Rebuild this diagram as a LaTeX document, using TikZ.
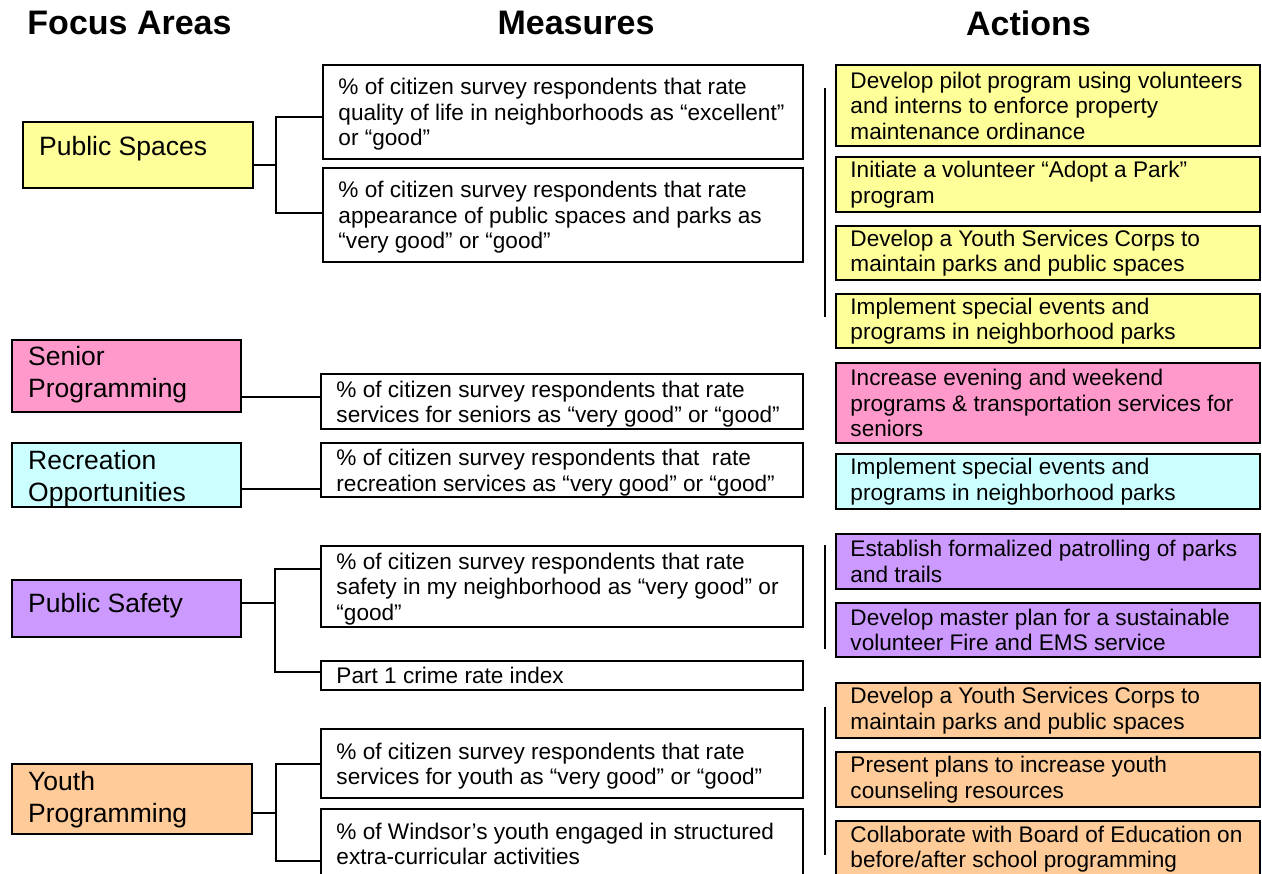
\documentclass[tikz,border=0pt]{standalone}
\usepackage{fontspec}
\setmainfont{Liberation Sans}
\definecolor{cyel}{HTML}{FFFF99}
\definecolor{cpink}{HTML}{FF99CC}
\definecolor{ccyan}{HTML}{CCFFFF}
\definecolor{cpurp}{HTML}{CC99FF}
\definecolor{corng}{HTML}{FFCC99}
\begin{document}
\begin{tikzpicture}[x=1pt,y=-1pt,
  box/.style={draw=black, line width=1.5pt, inner sep=0pt, rectangle},
  btext/.style={anchor=west, align=left, inner sep=0pt, font=\fontsize{22.6}{25.5}\selectfont},
  mtext/.style={btext, yshift=-2.5pt},
  ftext/.style={anchor=west, align=left, inner sep=0pt, font=\fontsize{26.5}{32}\selectfont},
  head/.style={inner sep=0pt, font=\fontsize{34}{40}\selectfont\bfseries},
  conn/.style={line width=1.5pt}]
\useasboundingbox (0,0) rectangle (1262,874);
\clip (0,0) rectangle (1262,874);
\fill[white] (0,0) rectangle (1262,874);

% headers
\node[head] (h1) at (129.5,23) {Focus Areas};
\node[head] (h2) at (576,23) {Measures};
\node[head] (h3) at (1028.5,23) {Actions};

% focus areas
\node[box, fill=cyel, minimum width=230, minimum height=66] (ps) at (138,155) {};
\node[ftext] (pst) at (39,149) {Public Spaces};
\node[box, fill=cpink, minimum width=229, minimum height=72] (sp) at (126.5,376) {};
\node[ftext] (spt) at (28,375) {Senior\\Programming};
\node[box, fill=ccyan, minimum width=229, minimum height=64] (ro) at (126.5,475) {};
\node[ftext] (rot) at (28,479) {Recreation\\Opportunities};
\node[box, fill=cpurp, minimum width=229, minimum height=57] (psa) at (126.5,608.5) {};
\node[ftext] (psat) at (28,606) {Public Safety};
\node[box, fill=corng, minimum width=240, minimum height=70] (yp) at (132,799) {};
\node[ftext] (ypt) at (28,799.5) {Youth\\Programming};

% measures
\node[box, minimum width=480, minimum height=94] (m1) at (563,112) {};
\node[mtext] (m1t) at ([xshift=16pt]m1.west) {\% of citizen survey respondents that rate\\quality of life in neighborhoods as “excellent”\\or “good”};
\node[box, minimum width=480, minimum height=94] (m2) at (563,215) {};
\node[mtext] (m2t) at ([xshift=16pt]m2.west) {\% of citizen survey respondents that rate\\appearance of public spaces and parks as\\“very good” or “good”};
\node[box, minimum width=482, minimum height=55] (m3) at (562,401.5) {};
\node[mtext] (m3t) at ([xshift=16pt]m3.west) {\% of citizen survey respondents that rate\\services for seniors as “very good” or “good”};
\node[box, minimum width=482, minimum height=54] (m4) at (562,470) {};
\node[mtext] (m4t) at ([xshift=16pt]m4.west) {\% of citizen survey respondents that \ rate\\recreation services as “very good” or “good”};
\node[box, minimum width=482, minimum height=81] (m5) at (562,586.5) {};
\node[mtext] (m5t) at ([xshift=16pt]m5.west) {\% of citizen survey respondents that rate\\safety in my neighborhood as “very good” or\\“good”};
\node[box, minimum width=482, minimum height=29] (m6) at (562,675.5) {};
\node[btext] (m6t) at ([xshift=16pt]m6.west) {Part 1 crime rate index};
\node[box, minimum width=482, minimum height=69] (m7) at (562,763.5) {};
\node[mtext] (m7t) at ([xshift=16pt]m7.west) {\% of citizen survey respondents that rate\\services for youth as “very good” or “good”};
\node[box, minimum width=482, minimum height=70] (m8) at (562,844) {};
\node[btext] (m8t) at ([xshift=16pt]m8.west) {\% of Windsor’s youth engaged in structured\\extra-curricular activities};

% actions
\node[box, fill=cyel, minimum width=424, minimum height=81] (a1) at (1048,105.5) {};
\node[btext] (a1t) at ([xshift=15pt]a1.west) {Develop pilot program using volunteers\\and interns to enforce property\\maintenance ordinance};
\node[box, fill=cyel, minimum width=424, minimum height=55] (a2) at (1048,184.5) {};
\node[btext] (a2t) at ([xshift=15pt]a2.west) {Initiate a volunteer “Adopt a Park”\\program};
\node[box, fill=cyel, minimum width=424, minimum height=54] (a3) at (1048,253) {};
\node[btext] (a3t) at ([xshift=15pt]a3.west) {Develop a Youth Services Corps to\\maintain parks and public spaces};
\node[box, fill=cyel, minimum width=424, minimum height=54] (a4) at (1048,321) {};
\node[btext] (a4t) at ([xshift=15pt]a4.west) {Implement special events and\\programs in neighborhood parks};
\node[box, fill=cpink, minimum width=424, minimum height=80] (a5) at (1048,403) {};
\node[btext] (a5t) at ([xshift=15pt]a5.west) {Increase evening and weekend\\programs \& transportation services for\\seniors};
\node[box, fill=ccyan, minimum width=424, minimum height=55] (a6) at (1048,481.5) {};
\node[btext] (a6t) at ([xshift=15pt]a6.west) {Implement special events and\\programs in neighborhood parks};
\node[box, fill=cpurp, minimum width=424, minimum height=55] (a7) at (1048,561.5) {};
\node[btext] (a7t) at ([xshift=15pt]a7.west) {Establish formalized patrolling of parks\\and trails};
\node[box, fill=cpurp, minimum width=424, minimum height=54] (a8) at (1048,630) {};
\node[btext] (a8t) at ([xshift=15pt]a8.west) {Develop master plan for a sustainable\\volunteer Fire and EMS service};
\node[box, fill=corng, minimum width=424, minimum height=55] (a9) at (1048,710.5) {};
\node[btext] (a9t) at ([xshift=15pt]a9.west) {Develop a Youth Services Corps to\\maintain parks and public spaces};
\node[box, fill=corng, minimum width=424, minimum height=55] (a10) at (1048,779.5) {};
\node[btext] (a10t) at ([xshift=15pt]a10.west) {Present plans to increase youth\\counseling resources};
\node[box, fill=corng, minimum width=424, minimum height=56] (a11) at (1048,849) {};
\node[btext] (a11t) at ([xshift=15pt]a11.west) {Collaborate with Board of Education on\\before/after school programming};

% connectors: public spaces
\coordinate (jps) at (276,165);
\draw[conn] (ps.east |- jps) -- (jps);
\draw[conn] ([yshift=-5pt]m1.west) -| (jps) |- ([yshift=2pt]m2.west);
% senior
\coordinate (c3) at ([yshift=4.5pt]m3.west);
\draw[conn] (c3) -- (c3 -| sp.east);
% recreation
\coordinate (c4) at ([yshift=-19pt]m4.west);
\draw[conn] (c4) -- (c4 -| ro.east);
% public safety
\coordinate (jsa) at (275,603);
\draw[conn] (psa.east |- jsa) -- (jsa);
\draw[conn] ([yshift=17.5pt]m5.west) -| (jsa) |- ([yshift=3.5pt]m6.west);
% youth
\coordinate (jyp) at (276,813);
\draw[conn] (yp.east |- jyp) -- (jyp);
\draw[conn] ([yshift=-0.5pt,xshift=2pt]m7.west) -| (jyp) |- ([yshift=-17pt,xshift=2pt]m8.west);

% action group brackets
\coordinate (b1t) at (825,88);  \coordinate (b1b) at (825,317);
\coordinate (b2t) at (825,545); \coordinate (b2b) at (825,649);
\coordinate (b3t) at (825,707); \coordinate (b3b) at (825,855);
\draw[conn] (b1t) -- (b1b);
\draw[conn] (b2t) -- (b2b);
\draw[conn] (b3t) -- (b3b);
\end{tikzpicture}
\end{document}
